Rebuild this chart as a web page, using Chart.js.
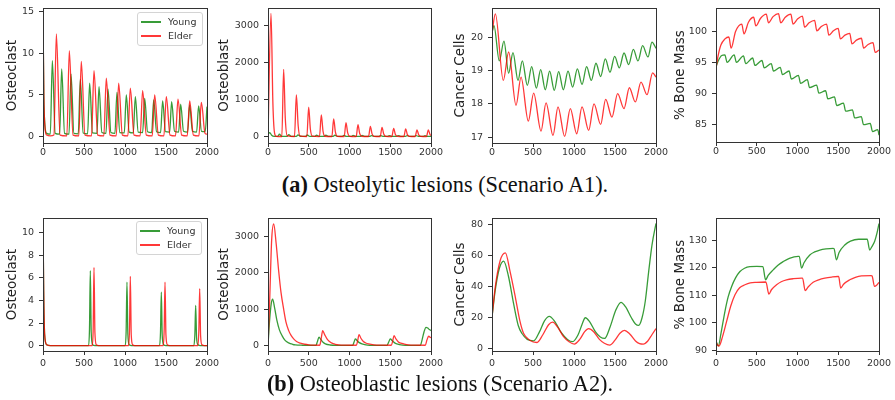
<!DOCTYPE html>
<html>
<head>
<meta charset="utf-8">
<script src="https://cdn.jsdelivr.net/npm/chart.js@4.4.1/dist/chart.umd.min.js"></script>
<style>
  body { margin: 0; background: #fff; }
  #fig { position: relative; width: 895px; height: 400px; overflow: hidden; font-family: "DejaVu Sans", sans-serif; }
  #fig canvas { position: absolute; }
  .legend { position: absolute; border: 1px solid #d4d4d4; border-radius: 3px; background: rgba(255,255,255,0.85); font-size: 9.5px; color: #333; }
  .legend .row { position: absolute; left: 0; right: 0; height: 12px; line-height: 12px; white-space: nowrap; }
  .legend .swatch { position: absolute; left: 3px; top: 5px; width: 20px; height: 1.5px; }
  .legend .label { position: absolute; left: 30px; top: 0; }
  .caption { position: absolute; text-align: center; font-family: "Liberation Serif", serif; font-size: 22.3px; line-height: 24px; color: #111; white-space: nowrap; }
</style>
</head>
<body>
<div id="fig"></div>
<script>
// x axis is shared by every panel
const xTicks = [0, 500, 1000, 1500, 2000];

// ---- (a) Scenario A1, osteolytic ----
const a1OclYoung = [[0,14.7],[10,5],[25,1.2],[45,0.4],
  [89,0.3],[114,9.1],[149,0.4],[203,0.3],[228,8.1],[263,0.4],[317,0.3],[342,7.5],[377,0.4],
  [430,0.35],[455,6.9],[490,0.45],[544,0.35],[569,6.4],[604,0.45],[658,0.4],[683,6.0],[718,0.5],
  [768,0.4],[793,5.7],[828,0.5],[877,0.4],[902,5.3],[937,0.5],[991,0.45],[1016,5.0],[1051,0.55],
  [1101,0.45],[1126,4.8],[1161,0.55],[1215,0.5],[1240,4.6],[1275,0.6],[1325,0.5],[1350,4.4],[1385,0.6],
  [1434,0.5],[1459,4.3],[1494,0.6],[1544,0.55],[1569,4.2],[1604,0.65],[1654,0.55],[1679,3.9],[1714,0.65],
  [1763,0.55],[1788,3.8],[1823,0.65],[1873,0.55],[1898,3.7],[1933,0.65],[1978,0.6],[2000,3.6]];
const a1OclElder = [[0,14.7],[10,5],[25,1],[45,0.2],[90,0.1],
  [133,0.2],[163,12.3],[208,0.2],[291,0.1],[321,10.3],[366,0.2],[437,0.1],[467,9.0],[512,0.2],
  [592,0.1],[622,7.9],[667,0.2],[742,0.1],[772,7.0],[817,0.2],[893,0.1],[923,6.4],[968,0.2],
  [1035,0.1],[1065,5.8],[1110,0.2],[1185,0.1],[1215,5.5],[1260,0.2],[1332,0.1],[1362,5.0],[1407,0.2],
  [1474,0.1],[1504,4.8],[1549,0.2],[1616,0.1],[1646,4.5],[1691,0.2],[1759,0.1],[1789,4.3],[1834,0.2],
  [1901,0.1],[1931,4.1],[1976,0.4],[2000,0.3]];

const a1ObYoung = [[0,60],[22,110],[45,40],[75,10],
  [120,8],[140,65],[170,10],[235,8],[255,55],[285,10],[348,8],[368,50],[398,10],
  [462,8],[482,45],[512,10],[576,8],[596,42],[626,10],[690,8],[710,40],[740,10],
  [800,8],[820,38],[850,10],[910,8],[930,36],[960,10],[1024,8],[1044,34],[1074,10],
  [1134,8],[1154,32],[1184,10],[1248,8],[1268,30],[1298,10],[1358,8],[1378,30],[1408,10],
  [1467,8],[1487,28],[1517,10],[1577,8],[1597,28],[1627,10],[1687,8],[1707,26],[1737,10],
  [1796,8],[1816,26],[1846,10],[1906,8],[1926,25],[1956,10],[2000,9]];
const a1ObElder = [[0,0],[37,3315],[60,900],[80,100],[100,10],
  [170,5],[192,1811],[212,500],[235,30],[325,5],[348,1126],[370,300],[392,20],
  [477,5],[499,793],[520,200],[545,15],[632,5],[654,586],[675,150],[700,12],
  [784,5],[806,477],[827,120],[852,10],[935,5],[957,378],[978,100],[1003,10],
  [1082,5],[1104,324],[1125,85],[1150,10],[1234,5],[1256,279],[1277,75],[1302,10],
  [1377,5],[1399,252],[1420,70],[1445,10],[1520,5],[1542,225],[1563,60],[1588,10],
  [1667,5],[1689,207],[1710,55],[1735,10],[1806,5],[1828,180],[1849,50],[1874,10],
  [1945,5],[1967,180],[1988,60],[2000,30]];

const a1CancerYoung = [[0,20.15],[24,20.37],[89,19.3],[146,19.9],[203,18.93],[256,19.55],[317,18.71],
  [370,19.3],[431,18.56],[484,19.13],[541,18.48],[594,19.04],[650,18.43],[703,18.99],[760,18.41],
  [813,18.98],[870,18.43],[927,18.99],[984,18.51],[1041,19.06],[1098,18.59],[1154,19.13],[1211,18.71],
  [1268,19.23],[1325,18.83],[1382,19.36],[1439,18.96],[1496,19.44],[1553,19.09],[1610,19.54],
  [1667,19.19],[1724,19.65],[1780,19.3],[1837,19.76],[1902,19.42],[1951,19.87],[2000,19.68]];
const a1CancerElder = [[0,20.14],[41,20.72],[138,18.71],[203,19.57],[293,17.96],[354,18.81],[443,17.48],
  [508,18.33],[598,17.18],[659,18.03],[744,17.05],[805,17.91],[886,17.02],[955,17.86],[1033,17.1],
  [1098,17.91],[1179,17.2],[1244,18.0],[1325,17.38],[1386,18.14],[1463,17.6],[1532,18.31],[1610,17.86],
  [1675,18.49],[1748,18.06],[1817,18.66],[1890,18.28],[1959,18.94],[2000,18.81]];

const a1BoneYoung = [[0,94.3],[30,95.3],[70,96.1],[109,96.2],[136,95.0],[223,96.2],[250,95.0],
  [337,96.05],[364,94.8],[450,95.7],[477,94.5],[564,95.3],[591,94.1],[678,94.8],[705,93.6],
  [788,94.2],[815,93.0],[897,93.6],[924,92.3],[1011,92.9],[1038,91.6],[1121,92.2],[1148,90.9],
  [1235,91.3],[1262,90.0],[1345,90.4],[1372,89.1],[1454,89.4],[1481,88.0],[1564,88.4],[1591,87.1],
  [1674,87.3],[1701,86.0],[1783,86.2],[1810,84.9],[1893,85.1],[1920,83.8],[1985,84.1],[2000,83.2]];
const a1BoneElder = [[0,94.0],[25,96.0],[60,97.8],[110,98.8],[158,99.1],[185,97.3],[240,100.0],
  [316,101.2],[343,99.6],[398,101.5],[462,102.3],[489,100.9],[545,102.1],[617,102.8],[644,101.4],
  [700,102.4],[767,102.9],[794,101.4],[850,102.3],[918,102.8],[945,101.2],[1000,102.0],[1060,102.5],
  [1087,100.7],[1142,101.4],[1210,101.8],[1237,100.1],[1292,100.8],[1357,101.2],[1384,99.4],
  [1440,100.1],[1499,100.5],[1526,98.8],[1582,99.4],[1641,99.7],[1668,98.0],[1723,98.6],[1784,98.9],
  [1811,97.3],[1866,97.9],[1926,98.2],[1953,96.6],[2000,97.0]];

// ---- (b) Scenario A2, osteoblastic ----
const a2OclYoung = [[0,11.0],[8,5],[20,1],[45,0.1],[90,0.02],
  [555,0.02],[567,1.5],[577,6.64],[588,1.2],[605,0.1],[635,0.02],
  [1002,0.02],[1014,1.3],[1024,5.64],[1035,1.0],[1052,0.1],[1080,0.02],
  [1421,0.02],[1433,1.2],[1443,4.74],[1454,0.9],[1471,0.1],[1500,0.02],
  [1840,0.02],[1852,1.0],[1862,3.57],[1873,0.7],[1890,0.1],[1920,0.02],[2000,0.02]];
const a2OclElder = [[0,11.0],[8,5],[20,1],[45,0.1],[90,0.02],
  [600,0.02],[612,1.5],[622,6.93],[633,1.2],[650,0.1],[680,0.02],
  [1043,0.02],[1055,1.5],[1065,6.14],[1076,1.0],[1093,0.1],[1120,0.02],
  [1466,0.02],[1478,1.5],[1488,5.64],[1499,1.0],[1516,0.1],[1545,0.02],
  [1889,0.02],[1901,1.5],[1911,5.06],[1922,0.9],[1939,0.1],[1970,0.02],[2000,0.02]];

const a2ObYoung = [[0,0],[20,700],[40,1150],[57,1273],[80,1050],[110,682],[140,430],[172,273],
  [210,140],[254,73],[300,35],[335,18],[420,8],[589,5],[605,100],[626,227],[650,160],[675,90],
  [704,45],[760,15],[850,6],[1039,5],[1055,90],[1072,182],[1095,130],[1120,80],[1153,45],
  [1220,12],[1300,6],[1460,5],[1480,90],[1501,182],[1525,130],[1550,80],[1580,45],[1650,12],
  [1750,6],[1869,5],[1890,150],[1915,380],[1939,500],[1960,480],[1980,440],[2000,410]];
const a2ObElder = [[0,0],[20,1200],[45,2900],[70,3336],[100,2800],[131,2045],[160,1450],[192,1000],
  [220,650],[254,409],[285,270],[315,182],[350,110],[397,64],[450,35],[499,18],[560,10],
  [634,8],[650,150],[671,409],[695,300],[724,182],[755,110],[785,64],[825,35],[867,18],[950,10],
  [1084,8],[1100,130],[1117,300],[1140,200],[1170,110],[1200,70],[1235,45],[1300,20],[1400,10],
  [1513,8],[1530,120],[1546,273],[1570,180],[1600,100],[1630,65],[1665,45],[1720,20],[1800,10],
  [1930,8],[1950,150],[1971,255],[1990,230],[2000,210]];

const a2CancerYoung = [[0,20.4],[40,38],[90,52],[142,56.6],[200,47],[264,28.9],[320,15],[366,9.8],
  [430,6],[508,5.1],[580,11],[640,18],[699,20.9],[760,18],[850,10],[920,6],[984,4.5],[1050,9],
  [1100,16],[1138,20],[1190,17.5],[1260,11],[1320,7.5],[1374,6.6],[1440,14],[1510,25],[1573,30],
  [1630,27],[1700,20],[1750,16],[1789,15.1],[1830,20],[1870,31],[1911,50],[1951,67],[2000,81]];
const a2CancerElder = [[0,20.4],[40,40],[100,57],[163,61.9],[220,50],[285,33.2],[340,18],[386,9.8],
  [460,5.5],[549,4.0],[620,9],[690,15.5],[740,17.2],[800,14],[870,8],[940,4.5],[1004,3.0],[1070,6],
  [1130,11],[1179,13],[1240,11],[1310,6],[1370,3.5],[1435,2.3],[1500,5.5],[1560,10],[1614,11.9],
  [1680,9.5],[1750,5],[1800,3.3],[1845,3],[1900,5],[1950,9],[2000,13]];

const a2BoneYoung = [[0,93.4],[29,91.6],[60,96],[110,104.2],[150,109.5],[192,113.2],[240,116.3],
  [294,118.6],[350,119.8],[416,120.4],[500,120.5],[575,120.4],[608,115.6],[640,117.2],[702,119.2],
  [760,120.9],[824,122.2],[900,123.4],[1008,124.1],[1022,124.1],[1049,119.8],[1080,121.8],
  [1151,124.6],[1210,125.7],[1274,126.4],[1350,126.8],[1437,127.0],[1448,126.9],[1478,122.8],
  [1510,125.5],[1580,128.2],[1650,129.6],[1750,130.3],[1855,130.3],[1886,126.4],[1910,127.5],
  [1947,129.6],[1975,132.5],[2000,136]];
const a2BoneElder = [[0,92.8],[37,91.6],[80,95],[131,100.6],[180,106],[233,110.2],[290,112.7],
  [355,113.8],[420,114.5],[498,114.7],[612,114.8],[649,110.4],[680,112],[743,113.8],[800,114.9],
  [865,115.6],[950,116.0],[1049,116.2],[1062,116.2],[1094,111.7],[1130,113],[1192,114.7],
  [1260,115.6],[1335,116.2],[1420,116.6],[1495,116.8],[1505,116.8],[1530,112.6],[1565,114],
  [1641,115.6],[1710,116.5],[1784,117.0],[1906,117.1],[1915,117.0],[1945,113.2],[1970,113.6],[2000,114.7]];

// y tick labels
const oclTicksA1 = [0, 5, 10, 15];
const obTicks = [0, 1000, 2000, 3000];
const cancerTicksA1 = [17, 18, 19, 20];
const boneTicksA1 = [85, 90, 95, 100];
const oclTicksA2 = [0, 2, 4, 6, 8, 10];
const cancerTicksA2 = [0, 20, 40, 60, 80];
const boneTicksA2 = [90, 100, 110, 120, 130];

const GREEN = 'rgba(0,128,0,0.78)';
const RED = 'rgba(255,0,0,0.78)';
const AXIS = '#333';
const fig = document.getElementById('fig');

// box round the plot area (matplotlib spines)
const frame = {
  id: 'frame',
  afterDatasetsDraw(chart) {
    const { ctx, chartArea: a } = chart;
    ctx.save();
    ctx.strokeStyle = AXIS;
    ctx.lineWidth = 1;
    ctx.strokeRect(Math.round(a.left) + 0.5, Math.round(a.top) + 0.5,
      Math.round(a.right - a.left), Math.round(a.bottom - a.top));
    ctx.restore();
  },
};

const pts = (arr) => arr.map((p) => ({ x: p[0], y: p[1] }));

function drawPanel(p) {
  const padTop = 12, padRight = 18, xAxisH = 24;
  const w = p.axisW + p.plotW + padRight;
  const h = padTop + p.plotH + xAxisH;
  const c = document.createElement('canvas');
  c.width = w;
  c.height = h;
  c.style.left = (p.plotLeft - p.axisW) + 'px';
  c.style.top = (p.plotTop - padTop) + 'px';
  c.style.width = w + 'px';
  c.style.height = h + 'px';
  fig.appendChild(c);

  const tickFont = { family: 'DejaVu Sans', size: 9.5 };
  new Chart(c.getContext('2d'), {
    type: 'line',
    data: {
      datasets: [
        { label: 'Young', data: pts(p.young), borderColor: GREEN, order: 2 },
        { label: 'Elder', data: pts(p.elder), borderColor: RED, order: 1 },
      ],
    },
    options: {
      responsive: false,
      animation: false,
      events: [],
      layout: { padding: { top: padTop, right: padRight, left: 0, bottom: 0 } },
      elements: {
        line: { borderWidth: 1.3, cubicInterpolationMode: 'monotone', fill: false },
        point: { radius: 0 },
      },
      plugins: { legend: { display: false }, tooltip: { enabled: false } },
      scales: {
        x: {
          type: 'linear',
          min: 0,
          max: 2000,
          afterBuildTicks: (s) => { s.ticks = xTicks.map((v) => ({ value: v })); },
          afterFit: (s) => { s.height = xAxisH; },
          ticks: { font: tickFont, color: AXIS, padding: p.xPad, maxRotation: 0, autoSkip: false, callback: (v) => String(v) },
          grid: { drawOnChartArea: false, tickLength: 4, color: AXIS },
          border: { display: false },
        },
        y: {
          min: p.yMin,
          max: p.yMax,
          afterBuildTicks: (s) => { s.ticks = p.yTicks.map((v) => ({ value: v })); },
          afterFit: (s) => { s.width = p.axisW; },
          ticks: { font: tickFont, color: AXIS, padding: 5, autoSkip: false, callback: (v) => String(v) },
          grid: { drawOnChartArea: false, tickLength: 4, color: AXIS },
          border: { display: false },
          title: {
            display: true,
            text: p.title,
            color: '#222',
            font: { family: 'DejaVu Sans', size: 13.5 },
            padding: { top: 4, bottom: 0 },
          },
        },
      },
    },
    plugins: [frame],
  });
}

function addLegend(left, top) {
  const box = document.createElement('div');
  box.className = 'legend';
  box.style.left = left + 'px';
  box.style.top = top + 'px';
  box.style.width = '64px';
  box.style.height = '32px';
  [['Young', GREEN, 3], ['Elder', RED, 17]].forEach(([name, color, y]) => {
    const row = document.createElement('div');
    row.className = 'row';
    row.style.top = y + 'px';
    row.innerHTML = '<span class="swatch" style="background:' + color + '"></span><span class="label">' + name + '</span>';
    box.appendChild(row);
  });
  fig.appendChild(box);
}

function addCaption(html, center, top) {
  const d = document.createElement('div');
  d.className = 'caption';
  d.style.left = (center - 300) + 'px';
  d.style.width = '600px';
  d.style.top = top + 'px';
  d.innerHTML = html;
  fig.appendChild(d);
}

const panels = [
  { young: a1OclYoung, elder: a1OclElder, title: 'Osteoclast', yTicks: oclTicksA1, yMin: -0.75, yMax: 15.4, plotLeft: 43, plotTop: 8, plotW: 164, plotH: 135, axisW: 43, xPad: 0 },
  { young: a1ObYoung, elder: a1ObElder, title: 'Osteoblast', yTicks: obTicks, yMin: -170, yMax: 3460, plotLeft: 268, plotTop: 8, plotW: 163, plotH: 135, axisW: 56, xPad: 0 },
  { young: a1CancerYoung, elder: a1CancerElder, title: 'Cancer Cells', yTicks: cancerTicksA1, yMin: 16.82, yMax: 20.9, plotLeft: 492, plotTop: 8, plotW: 164, plotH: 135, axisW: 44, xPad: 0 },
  { young: a1BoneYoung, elder: a1BoneElder, title: '% Bone Mass', yTicks: boneTicksA1, yMin: 82.1, yMax: 103.8, plotLeft: 716, plotTop: 8, plotW: 163, plotH: 134, axisW: 48, xPad: 0 },
  { young: a2OclYoung, elder: a2OclElder, title: 'Osteoclast', yTicks: oclTicksA2, yMin: -0.45, yMax: 11.3, plotLeft: 43, plotTop: 218, plotW: 164, plotH: 133, axisW: 43, xPad: 3 },
  { young: a2ObYoung, elder: a2ObElder, title: 'Osteoblast', yTicks: obTicks, yMin: -150, yMax: 3500, plotLeft: 268, plotTop: 218, plotW: 163, plotH: 133, axisW: 56, xPad: 3 },
  { young: a2CancerYoung, elder: a2CancerElder, title: 'Cancer Cells', yTicks: cancerTicksA2, yMin: -1.5, yMax: 84.5, plotLeft: 492, plotTop: 218, plotW: 164, plotH: 133, axisW: 44, xPad: 3 },
  { young: a2BoneYoung, elder: a2BoneElder, title: '% Bone Mass', yTicks: boneTicksA2, yMin: 89.8, yMax: 138, plotLeft: 716, plotTop: 218, plotW: 163, plotH: 133, axisW: 48, xPad: 3 },
];

panels.forEach(drawPanel);
addLegend(137, 12);
addLegend(136, 221);
addCaption('<b>(a)</b> Osteolytic lesions (Scenario A1).', 445, 173);
addCaption('<b>(b)</b> Osteoblastic lesions (Scenario A2).', 440, 372);
</script>
</body>
</html>
